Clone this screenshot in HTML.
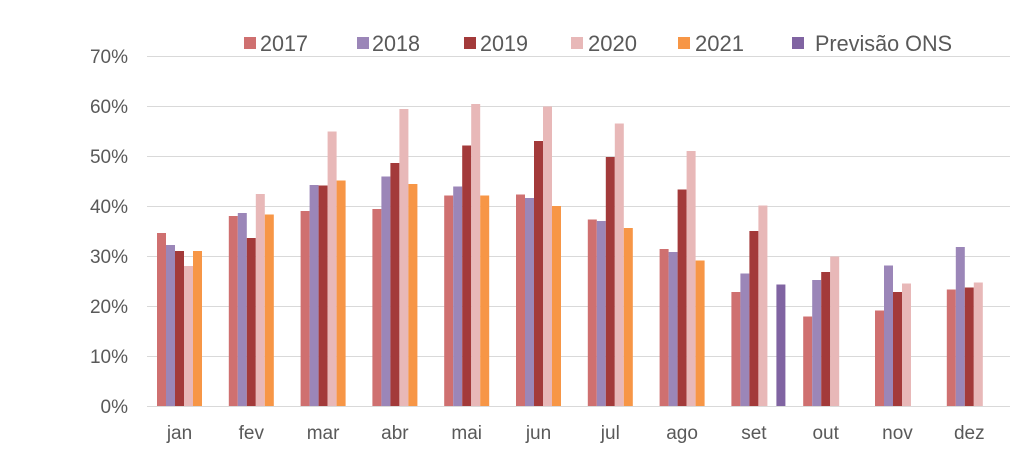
<!DOCTYPE html>
<html><head><meta charset="utf-8"><style>html,body{margin:0;padding:0;background:#fff}svg{display:block}</style></head>
<body>
<svg width="1024" height="470" xmlns="http://www.w3.org/2000/svg" font-family="Liberation Sans, sans-serif">
<rect width="1024" height="470" fill="#fff"/>
<g stroke="#d9d9d9" stroke-width="1">
<line x1="147" x2="1010" y1="56.5" y2="56.5"/>
<line x1="147" x2="1010" y1="106.5" y2="106.5"/>
<line x1="147" x2="1010" y1="156.5" y2="156.5"/>
<line x1="147" x2="1010" y1="206.5" y2="206.5"/>
<line x1="147" x2="1010" y1="256.5" y2="256.5"/>
<line x1="147" x2="1010" y1="306.5" y2="306.5"/>
<line x1="147" x2="1010" y1="356.5" y2="356.5"/>
<line x1="147" x2="1010" y1="406.5" y2="406.5"/>
</g>
<g fill="#595959" font-size="19" text-anchor="end">
<text x="128" y="63">70%</text><text x="128" y="113">60%</text><text x="128" y="163">50%</text>
<text x="128" y="213">40%</text><text x="128" y="263">30%</text><text x="128" y="313">20%</text>
<text x="128" y="363">10%</text><text x="128" y="413">0%</text>
</g>
<g id="bars"></g>
<g fill="#595959" font-size="19" text-anchor="middle" id="xl"></g>
<g font-size="22" fill="#595959">
<rect x="244" y="37" width="12" height="12" fill="#cf7070"/><text x="260" y="51" textLength="48" lengthAdjust="spacingAndGlyphs">2017</text>
<rect x="357" y="37" width="12" height="12" fill="#9b86b8"/><text x="372" y="51" textLength="48" lengthAdjust="spacingAndGlyphs">2018</text>
<rect x="464" y="37" width="12" height="12" fill="#a33a3a"/><text x="480" y="51" textLength="48" lengthAdjust="spacingAndGlyphs">2019</text>
<rect x="571" y="37" width="12" height="12" fill="#e8b8b8"/><text x="588" y="51" textLength="49" lengthAdjust="spacingAndGlyphs">2020</text>
<rect x="678" y="37" width="12" height="12" fill="#f79646"/><text x="695" y="51" textLength="49" lengthAdjust="spacingAndGlyphs">2021</text>
<rect x="792" y="37" width="12" height="12" fill="#8064a2"/><text x="815" y="51" textLength="137" lengthAdjust="spacingAndGlyphs">Previsão ONS</text>
</g>
<script>
var d=[[34.6,32.2,31.0,28.0,31.0],[38,38.6,33.6,42.4,38.3],[39,44.2,44.1,54.9,45.1],[39.4,45.9,48.6,59.4,44.4],[42.1,43.9,52.1,60.4,42.1],[42.3,41.6,53,59.9,40],[37.3,37,49.8,56.5,35.6],[31.4,30.8,43.3,51,29.1],[22.8,26.5,35,40.1,null,24.3],[17.9,25.2,26.8,29.9],[19.1,28.1,22.8,24.5],[23.3,31.8,23.7,24.7]];
var c=["#cf7070","#9b86b8","#a33a3a","#e8b8b8","#f79646","#8064a2"];
var m=["jan","fev","mar","abr","mai","jun","jul","ago","set","out","nov","dez"];
var ns="http://www.w3.org/2000/svg",g=document.getElementById("bars"),xl=document.getElementById("xl");
d.forEach(function(r,i){var x0=157+i*71.8;r.forEach(function(v,k){if(v==null)return;var e=document.createElementNS(ns,"rect");var h=v*5;e.setAttribute("x",(x0+k*9).toFixed(1));e.setAttribute("y",(406-h).toFixed(1));e.setAttribute("width","9");e.setAttribute("height",h.toFixed(1));e.setAttribute("fill",c[k]);g.appendChild(e);});
var t=document.createElementNS(ns,"text");t.setAttribute("x",(x0+22.5).toFixed(1));t.setAttribute("y","439");t.textContent=m[i];xl.appendChild(t);});
</script>
</svg>
</body></html>
